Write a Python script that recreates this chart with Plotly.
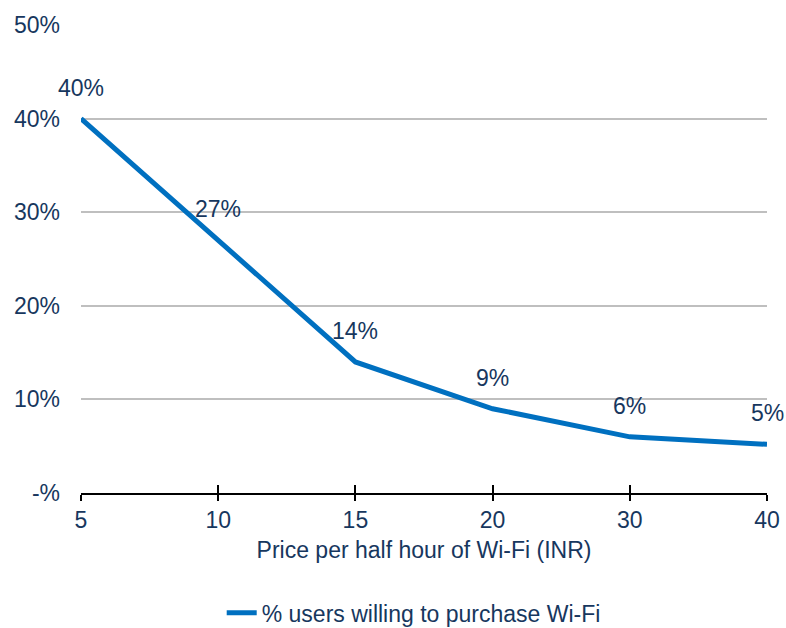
import plotly.graph_objects as go

# Price points (INR per half hour) and share of users willing to pay
prices = ["5", "10", "15", "20", "30", "40"]
willing_pct = [40, 27, 14, 9, 6, 5.2]
pct_labels = ["40%", "27%", "14%", "9%", "6%", "5%"]

y_ticks = [0, 10, 20, 30, 40, 50]
y_tick_text = ["-%", "10%", "20%", "30%", "40%", "50%"]

series_name = "% users willing to purchase Wi-Fi"
x_title = "Price per half hour of Wi-Fi (INR)"

TEXT = "#17375E"
LINE = "#0070C0"
FONT = "Liberation Sans, Arial, sans-serif"
FS = 23

fig = go.Figure()
fig.add_trace(go.Scatter(
    x=prices, y=willing_pct, mode="lines", name=series_name,
    line=dict(color=LINE, width=5), hoverinfo="skip",
))
# invisible copy on an overlaid axis, used only for the inward tick marks
fig.add_trace(go.Scatter(
    x=prices, y=willing_pct, mode="lines", xaxis="x2", showlegend=False,
    line=dict(color="rgba(0,0,0,0)", width=0), hoverinfo="skip",
))

# value labels above each point (category index keeps them on the axis slots)
for i, (v, t) in enumerate(zip(willing_pct, pct_labels)):
    fig.add_annotation(x=i, y=v, text=t, showarrow=False, yshift=31,
                       font=dict(size=FS, color=TEXT, family=FONT))

fig.update_layout(
    width=786, height=628,
    margin=dict(l=81, r=19, t=25, b=135, autoexpand=False),
    paper_bgcolor="white", plot_bgcolor="white",
    font=dict(family=FONT, size=FS, color=TEXT),
    showlegend=True,
    legend=dict(orientation="h", x=0.485, xanchor="center", y=-0.256,
                yanchor="middle", font=dict(size=FS, color=TEXT)),
    xaxis=dict(
        type="category", range=[0, 5],
        showline=True, linecolor="black", linewidth=1.5,
        ticks="outside", ticklen=6, tickcolor="black", tickwidth=1.5,
        showgrid=False, zeroline=False,
        tickfont=dict(size=FS, color=TEXT),
        title=dict(text=x_title, standoff=10, font=dict(size=FS, color=TEXT)),
    ),
    xaxis2=dict(
        type="category", range=[0, 5], overlaying="x", anchor="y",
        side="bottom", showline=False, showgrid=False, zeroline=False,
        ticks="inside", ticklen=8, tickcolor="black", tickwidth=1.5,
        showticklabels=False,
    ),
    yaxis=dict(
        range=[0, 50], tickvals=y_ticks, ticktext=y_tick_text,
        showgrid=True, gridcolor="#BFBFBF", gridwidth=1.5,
        zeroline=False, showline=False, ticks="",
        ticklabelstandoff=20,
        tickfont=dict(size=FS, color=TEXT),
    ),
)

fig.write_html("out.html")
